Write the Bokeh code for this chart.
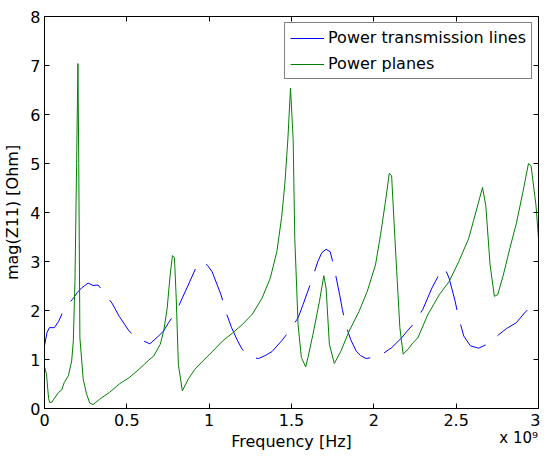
from bokeh.plotting import figure
from bokeh.models import Range1d, LinearAxis, FixedTicker, Legend
from bokeh.embed import file_html
from bokeh.resources import INLINE

# Frequency in units of 1e9 Hz
blue_f = [0.0, 0.015, 0.03, 0.06, 0.086, 0.115, 0.145, 0.175, 0.2, 0.225, 0.265, 0.295,
          0.325, 0.355, 0.38, 0.41, 0.454, 0.514, 0.56, 0.60, 0.64, 0.693, 0.723, 0.753,
          0.80, 0.839, 0.873, 0.922, 0.958, 0.99, 1.018, 1.072, 1.106, 1.136, 1.17, 1.20,
          1.251, 1.30, 1.34, 1.381, 1.44, 1.47, 1.50, 1.54, 1.57, 1.62, 1.66, 1.684, 1.71,
          1.735, 1.76, 1.793, 1.809, 1.829, 1.859, 1.893, 1.92, 1.953, 2.028, 2.108, 2.168,
          2.2, 2.237, 2.297, 2.353, 2.375, 2.397, 2.431, 2.457, 2.493, 2.512, 2.546, 2.586,
          2.636, 2.68, 2.72, 2.756, 2.805, 2.865, 2.915, 2.95, 2.979, 3.0]
blue_v = [1.28, 1.55, 1.65, 1.65, 1.78, 2.0, 2.13, 2.25, 2.37, 2.46, 2.56, 2.51,
          2.52, 2.40, 2.28, 2.15, 1.88, 1.58, 1.44, 1.38, 1.32, 1.48, 1.58, 1.75,
          1.98, 2.27, 2.52, 2.89, 3.0, 2.92, 2.79, 2.32, 1.93, 1.65, 1.40, 1.21,
          1.05, 1.02, 1.08, 1.16, 1.38, 1.51, 1.65, 1.85, 2.12, 2.59, 3.0, 3.18, 3.25,
          3.20, 2.86, 2.31, 2.02, 1.71, 1.41, 1.17, 1.08, 1.02, 1.06, 1.24, 1.44,
          1.57, 1.71, 2.02, 2.46, 2.60, 2.74, 2.87, 2.66, 2.20, 1.90, 1.48, 1.28,
          1.23, 1.30, 1.38, 1.50, 1.63, 1.75, 1.95, 2.07, 2.17, 2.22]

green_f = [0.0, 0.012, 0.025, 0.032, 0.045, 0.056, 0.086, 0.105, 0.12, 0.145, 0.165, 0.175,
           0.185, 0.195, 0.203, 0.208, 0.215, 0.235, 0.255, 0.275, 0.295, 0.335, 0.395,
           0.454, 0.514, 0.574, 0.634, 0.663, 0.703, 0.725, 0.745, 0.763, 0.777, 0.789,
           0.80, 0.813, 0.837, 0.873, 0.913, 0.962, 1.022, 1.082, 1.142, 1.20, 1.261,
           1.321, 1.371, 1.411, 1.44, 1.46, 1.478, 1.494, 1.51, 1.52, 1.54, 1.56, 1.586,
           1.60, 1.63, 1.67, 1.696, 1.71, 1.73, 1.76, 1.80, 1.85, 1.91, 1.96, 2.01, 2.04,
           2.07, 2.094, 2.108, 2.128, 2.158, 2.178, 2.208, 2.237, 2.267, 2.327, 2.397,
           2.457, 2.516, 2.576, 2.606, 2.636, 2.66, 2.68, 2.706, 2.732, 2.752, 2.786,
           2.826, 2.865, 2.905, 2.939, 2.955, 2.985, 3.0]
green_v = [0.85, 0.7, 0.2, 0.12, 0.13, 0.19, 0.33, 0.38, 0.53, 0.67, 0.97, 1.38,
           2.59, 5.0, 7.04, 5.0, 1.44, 0.60, 0.30, 0.11, 0.08, 0.19, 0.33,
           0.50, 0.63, 0.80, 0.99, 1.07, 1.31, 1.6, 2.05, 2.72, 3.12, 3.08,
           2.25, 0.90, 0.36, 0.60, 0.80, 0.97, 1.17, 1.38, 1.54, 1.71, 1.92,
           2.25, 2.66, 3.20, 3.9, 4.6, 5.5, 6.54, 5.49, 3.47, 1.71, 1.04, 0.85,
           1.04, 1.51, 2.19, 2.71, 2.46, 1.31, 0.92, 1.17, 1.58, 1.98, 2.39, 2.93, 3.53,
           4.21, 4.80, 4.75, 3.47, 1.65, 1.11, 1.21, 1.34, 1.44, 1.91, 2.32,
           2.59, 3.0, 3.47, 3.84, 4.21, 4.51, 4.14, 2.93, 2.29, 2.32, 2.72,
           3.27, 3.77, 4.41, 5.0, 4.95, 4.14, 3.47]

x_ticks = [0, 0.5, 1, 1.5, 2, 2.5, 3]
x_tick_labels = ["0", "0.5", "1", "1.5", "2", "2.5", "3"]
y_ticks = [0, 1, 2, 3, 4, 5, 6, 7, 8]
scale_pos = 2.88
scale_text = "x 10\u2079"

FONT = "DejaVu Sans"

p = figure(width=540, height=453, output_backend="svg", toolbar_location=None,
           x_range=Range1d(0, 3), y_range=Range1d(0, 8),
           min_border_left=44, min_border_right=2, min_border_top=16, min_border_bottom=42)
p.grid.visible = False
p.outline_line_color = "black"
p.outline_line_width = 1
p.background_fill_color = "white"
p.border_fill_color = "white"

r1 = p.line(blue_f, blue_v, line_color="#0000FF", line_width=1, line_dash="40 15")
r2 = p.line(green_f, green_v, line_color="#008000", line_width=1)

def style_axis(ax, show_labels=True):
    ax.major_tick_in = 5
    ax.major_tick_out = 0
    ax.minor_tick_line_color = None
    ax.axis_line_color = "black"
    ax.major_tick_line_color = "black"
    ax.major_label_text_font = FONT
    ax.major_label_text_color = "black"
    if show_labels:
        ax.major_label_text_font_size = "16px"
    else:
        ax.major_label_text_font_size = "1px"
        ax.major_label_text_alpha = 0
        ax.major_label_standoff = 0

xa = p.xaxis[0]
xa.ticker = FixedTicker(ticks=x_ticks)
xa.major_label_overrides = {t: l for t, l in zip(x_ticks, x_tick_labels)}
style_axis(xa)
xa.major_label_standoff = 5

# second below axis: carries the "x 10^9" multiplier and the axis title on one row
xb = LinearAxis(ticker=FixedTicker(ticks=[scale_pos]),
                major_label_overrides={scale_pos: scale_text})
xb.major_tick_line_color = None
xb.minor_tick_line_color = None
xb.axis_line_color = None
xb.major_tick_in = 0
xb.major_tick_out = 0
xb.major_label_standoff = 0
xb.major_label_text_font = FONT
xb.major_label_text_font_size = "15px"
xb.major_label_text_color = "black"
xb.axis_label = "Frequency [Hz]"
xb.axis_label_text_font = FONT
xb.axis_label_text_font_size = "16px"
xb.axis_label_text_font_style = "normal"
xb.axis_label_text_color = "black"
xb.axis_label_standoff = -18
p.add_layout(xb, "below")

ya = p.yaxis[0]
ya.ticker = FixedTicker(ticks=y_ticks)
style_axis(ya)
ya.major_label_standoff = 4
ya.axis_label = "mag(Z11) [Ohm]"
ya.axis_label_text_font = FONT
ya.axis_label_text_font_size = "16px"
ya.axis_label_text_font_style = "normal"
ya.axis_label_text_color = "black"
ya.axis_label_standoff = 5

top = LinearAxis(ticker=FixedTicker(ticks=x_ticks))
style_axis(top, False)
p.add_layout(top, "above")
right = LinearAxis(ticker=FixedTicker(ticks=y_ticks))
style_axis(right, False)
p.add_layout(right, "right")

legend = Legend(items=[("Power transmission lines", [r1]), ("Power planes", [r2])],
                location="top_right", border_line_color="black", border_line_width=1,
                label_text_font=FONT, label_text_font_size="16px", label_text_color="black",
                glyph_width=34, glyph_height=18, label_height=18, label_standoff=4,
                spacing=7, padding=5, margin=6, background_fill_alpha=1)
p.add_layout(legend, "center")

open("out.html", "w").write(file_html(p, INLINE))
